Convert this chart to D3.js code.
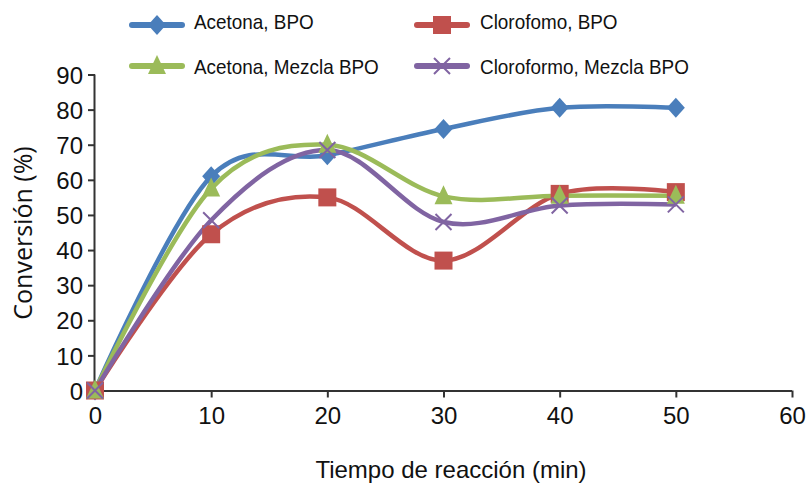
<!DOCTYPE html>
<html>
<head>
<meta charset="utf-8">
<script src="https://cdn.jsdelivr.net/npm/d3@7"></script>
<style>
  body { margin: 0; background: #fff; }
  svg { display: block; }
</style>
</head>
<body>
<svg id="chart" width="807" height="487"></svg>
<script>
// Data
const times = [0, 10, 20, 30, 40, 50];
const acetonaBPO = [0, 61, 67, 74.5, 80.5, 80.5];
const clorofomoBPO = [0, 44.5, 55, 37, 56, 56.5];
const acetonaMezcla = [0, 57.5, 70, 55.3, 55.5, 55.5];
const cloroformoMezcla = [0, 48.5, 68.5, 48, 52.7, 53];
const xTicks = [0, 10, 20, 30, 40, 50, 60];
const yTicks = [0, 10, 20, 30, 40, 50, 60, 70, 80, 90];

const series = [
    { name: 'Acetona, BPO', values: acetonaBPO, color: '#4a7ebb', marker: 'diamond' },
    { name: 'Clorofomo, BPO', values: clorofomoBPO, color: '#c0504d', marker: 'square' },
    { name: 'Acetona, Mezcla BPO', values: acetonaMezcla, color: '#9bbb59', marker: 'triangle' },
    { name: 'Cloroformo, Mezcla BPO', values: cloroformoMezcla, color: '#8064a2', marker: 'cross' }
];

const svg = d3.select('#chart');

const x = d3.scaleLinear().domain([0, 60]).range([95, 792]);
const y = d3.scaleLinear().domain([0, 90]).range([390.5, 74.5]);

// Draw a marker at (cx, cy)
function drawMarker(g, type, cx, cy, color) {
    if (type === 'diamond') {
        g.append('path')
            .attr('d', `M${cx},${cy - 10} L${cx + 9},${cy} L${cx},${cy + 10} L${cx - 9},${cy} Z`)
            .attr('fill', color);
    } else if (type === 'square') {
        g.append('rect')
            .attr('x', cx - 9).attr('y', cy - 9)
            .attr('width', 18).attr('height', 18)
            .attr('fill', color);
    } else if (type === 'triangle') {
        g.append('path')
            .attr('d', `M${cx},${cy - 11} L${cx + 9},${cy + 8} L${cx - 9},${cy + 8} Z`)
            .attr('fill', color);
    } else {
        g.append('path')
            .attr('d', `M${cx - 8},${cy - 8} L${cx + 8},${cy + 8} M${cx + 8},${cy - 8} L${cx - 8},${cy + 8}`)
            .attr('stroke', color)
            .attr('stroke-width', 2)
            .attr('fill', 'none');
    }
}

// Axes
const yAxis = d3.axisLeft(y).tickValues(yTicks).tickSize(7).tickPadding(5);
const xAxis = d3.axisBottom(x).tickValues(xTicks).tickSize(7).tickPadding(9);

const gy = svg.append('g').attr('transform', `translate(${x(0)},0)`).call(yAxis);
const gx = svg.append('g').attr('transform', `translate(0,${y(0)})`).call(xAxis);

[gx, gy].forEach(g => {
    g.select('.domain').attr('stroke', '#333').attr('stroke-width', 2);
    g.selectAll('.tick line').attr('stroke', '#333').attr('stroke-width', 2);
    g.selectAll('.tick text')
        .attr('font-family', '"Liberation Sans", Arial, sans-serif')
        .attr('font-size', 24)
        .attr('fill', '#111');
});
gy.select('.domain').attr('d', `M-0.5,${y(90)}V${y(0)}`);
gy.selectAll('.tick text').attr('dy', '0.36em');
gx.select('.domain').attr('d', `M${x(0)},0.5H${x(60)}`);

// Axis titles
svg.append('text')
    .attr('x', 451).attr('y', 478)
    .attr('text-anchor', 'middle')
    .attr('font-family', '"Liberation Sans", Arial, sans-serif')
    .attr('font-size', 24)
    .attr('fill', '#111')
    .text('Tiempo de reacción (min)');

svg.append('text')
    .attr('transform', 'translate(32,233) rotate(-90)')
    .attr('text-anchor', 'middle')
    .attr('font-family', '"Open Sans", sans-serif')
    .attr('font-size', 25)
    .attr('fill', '#111')
    .text('Conversión (%)');

// Lines
const line = d3.line()
    .x((d, i) => x(times[i]))
    .y(d => y(d))
    .curve(d3.curveCatmullRom.alpha(0));

series.forEach(s => {
    svg.append('path')
        .datum(s.values)
        .attr('d', line)
        .attr('fill', 'none')
        .attr('stroke', s.color)
        .attr('stroke-width', 4.5)
        .attr('stroke-linejoin', 'round');
});

// Markers
series.forEach(s => {
    const g = svg.append('g');
    s.values.forEach((v, i) => drawMarker(g, s.marker, x(times[i]), y(v), s.color));
});

// Legend
const legendPos = [
    { lx: 132, ly: 25, tx: 194, ty: 29 },
    { lx: 417, ly: 25, tx: 480, ty: 29 },
    { lx: 132, ly: 66, tx: 194, ty: 74 },
    { lx: 417, ly: 66, tx: 480, ty: 74 }
];
series.forEach((s, i) => {
    const p = legendPos[i];
    const g = svg.append('g');
    g.append('line')
        .attr('x1', p.lx).attr('x2', p.lx + 50)
        .attr('y1', p.ly).attr('y2', p.ly)
        .attr('stroke', s.color)
        .attr('stroke-width', 6)
        .attr('stroke-linecap', 'round');
    drawMarker(g, s.marker, p.lx + 25, p.ly, s.color);
    g.append('text')
        .attr('transform', `translate(${p.tx},${p.ty}) scale(0.9,1)`)
        .attr('font-family', '"Liberation Sans", Arial, sans-serif')
        .attr('font-size', 21)
        .attr('fill', '#111')
        .text(s.name);
});
</script>
</body>
</html>
